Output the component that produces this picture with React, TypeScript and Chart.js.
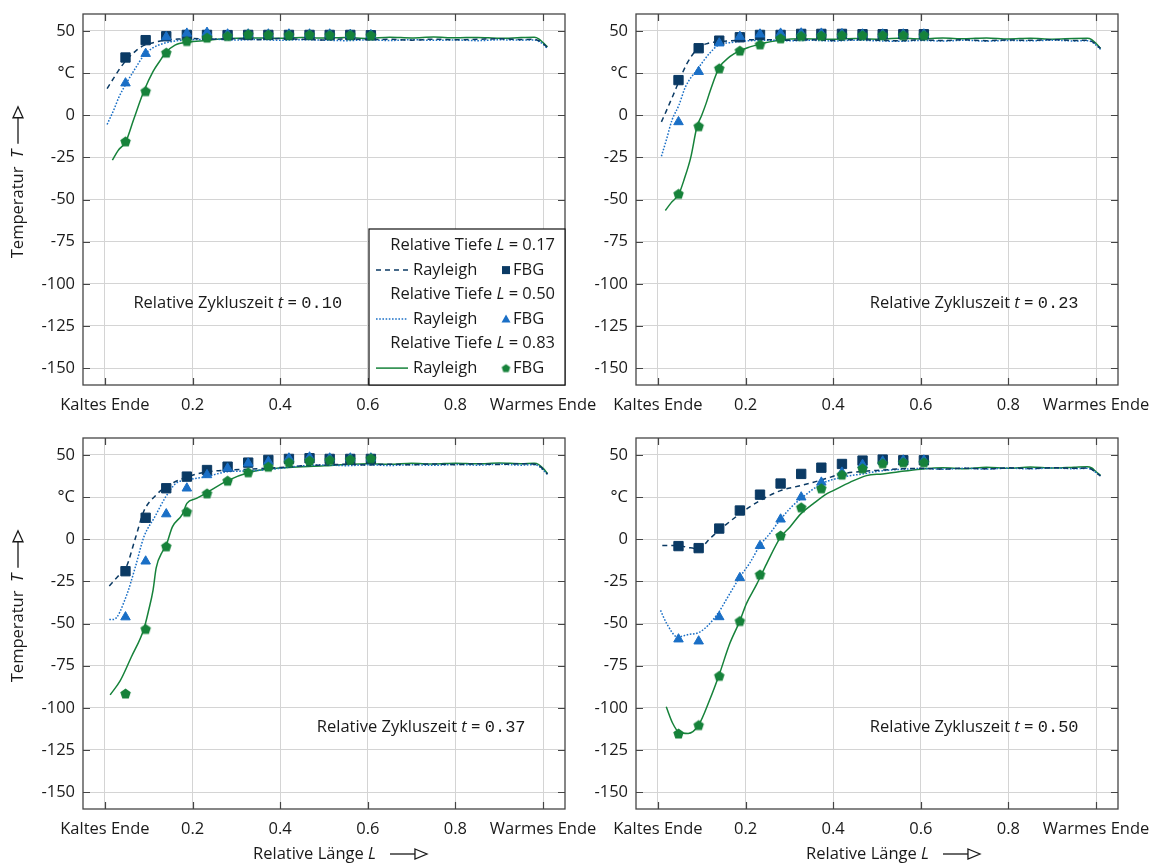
import React, { useEffect, useRef } from 'react';
import { Chart, registerables } from 'chart.js';
Chart.register(...registerables);

const FONT_FAMILY = '"Open Sans", sans-serif';
const MONO_FAMILY = '"Liberation Mono", "DejaVu Sans Mono", monospace';
const FS = 16.5;
const NAVY = '#0b3a64';
const BLUE = '#1a6fc6';
const GREEN = '#16823a';
const GRID = '#d4d4d4';
const FRAME = '#454545';
const TEXT = '#1a1a1a';

// ---------- axis ticks ----------
const xTickValues = [0, 0.2, 0.4, 0.6, 0.8, 1];
const xTickLabels = ['Kaltes Ende', '0.2', '0.4', '0.6', '0.8', 'Warmes Ende'];
const yTickValues = [-150, -125, -100, -75, -50, -25, 0, 25, 50];
const yTickLabels = ['-150', '-125', '-100', '-75', '-50', '-25', '0', '°C', '50'];
const depthLabels = ['0.17', '0.50', '0.83'];
const cycleTimes = ['0.10', '0.23', '0.37', '0.50'];

// ---------- FBG positions (relative length L) ----------
const fbgL = [0.047, 0.093, 0.14, 0.187, 0.233, 0.28, 0.327, 0.373, 0.42, 0.467, 0.513, 0.56, 0.607];

// ---------- t = 0.10 ----------
const rayL_10_17 = [0.005, 0.02, 0.035, 0.05, 0.07, 0.09, 0.11, 0.14, 0.17, 0.2, 0.25, 0.3, 0.35, 0.4, 0.45, 0.5, 0.55, 0.6, 0.65, 0.7, 0.75, 0.8, 0.85, 0.9, 0.95, 0.98, 0.99, 1.0, 1.01];
const rayT_10_17 = [15.7, 22, 28, 33, 38, 41.5, 43, 44.6, 45.2, 45.4, 45.1, 45.3, 44.8, 45.4, 45, 44.6, 45.2, 44.8, 45, 44.5, 45.1, 44.7, 45, 45.3, 44.9, 45, 44.2, 42.5, 40];
const rayL_10_50 = [0.005, 0.02, 0.032, 0.048, 0.07, 0.089, 0.11, 0.14, 0.17, 0.2, 0.25, 0.3, 0.35, 0.4, 0.45, 0.5, 0.55, 0.6, 0.65, 0.7, 0.75, 0.8, 0.85, 0.9, 0.95, 0.98, 0.99, 1.0, 1.01];
const rayT_10_50 = [-5.5, 3, 10.7, 18.5, 28, 35.5, 40, 43, 44.3, 44.8, 45, 44.6, 44.9, 44.4, 44.8, 44.5, 44.2, 44.7, 44.3, 44.8, 44.4, 44.6, 44.2, 44.7, 44.5, 44.6, 43.8, 42, 39.5];
const rayL_10_83 = [0.017, 0.03, 0.048, 0.065, 0.089, 0.11, 0.125, 0.139, 0.16, 0.19, 0.23, 0.28, 0.33, 0.4, 0.45, 0.5, 0.55, 0.6, 0.65, 0.7, 0.75, 0.8, 0.85, 0.9, 0.95, 0.98, 0.99, 1.0, 1.01];
const rayT_10_83 = [-26.6, -21, -15.5, -3, 14.3, 26, 32, 37.1, 41.5, 43.3, 44.3, 45.5, 45.8, 45.6, 46.1, 45.7, 46, 45.5, 46.2, 45.8, 46.3, 45.9, 46.1, 45.6, 46, 46.2, 45.3, 43, 40.5];
const fbg_10_17 = [34.2, 44.5, 46.8, 47.6, 47.6, 47.5, 47.6, 47.6, 47.6, 47.6, 47.6, 47.6, 47.4];
const fbg_10_50 = [19, 36.5, 46.4, 48.5, 49, 48, 48, 48, 48, 48, 48, 47.8, 47.6];
const fbg_10_83 = [-15.5, 14.3, 37.1, 44, 46, 47, 48, 47.8, 47.6, 47.8, 47.6, 47.6, 47.4];

// ---------- t = 0.23 ----------
const rayL_23_17 = [0.008, 0.02, 0.035, 0.048, 0.065, 0.089, 0.11, 0.14, 0.19, 0.25, 0.3, 0.35, 0.4, 0.45, 0.5, 0.55, 0.6, 0.65, 0.7, 0.75, 0.8, 0.85, 0.9, 0.95, 0.98, 0.99, 1.0, 1.01];
const rayT_23_17 = [-4, 3, 12, 20, 30, 39, 42.3, 43.5, 44.5, 44.8, 44.4, 44.7, 44.3, 44.8, 44.5, 44.1, 44.6, 44.3, 44.7, 44.2, 44.6, 44.4, 44.8, 44.3, 44.5, 43.8, 42, 39.5];
const rayL_23_50 = [0.008, 0.02, 0.032, 0.048, 0.063, 0.089, 0.118, 0.139, 0.164, 0.2, 0.25, 0.3, 0.35, 0.4, 0.45, 0.5, 0.55, 0.6, 0.65, 0.7, 0.75, 0.8, 0.85, 0.9, 0.95, 0.98, 0.99, 1.0, 1.01];
const rayT_23_50 = [-24.4, -14, -3, 6, 16.9, 26.8, 36.7, 41.7, 43, 44, 44.5, 44.1, 44.4, 44, 44.5, 44.1, 43.8, 44.3, 44, 44.4, 43.9, 44.3, 44.1, 44.5, 44, 44.2, 43.5, 41.5, 39];
const rayL_23_83 = [0.017, 0.03, 0.048, 0.06, 0.075, 0.089, 0.1, 0.11, 0.12, 0.139, 0.164, 0.187, 0.21, 0.23, 0.28, 0.33, 0.4, 0.45, 0.5, 0.55, 0.6, 0.65, 0.7, 0.75, 0.8, 0.85, 0.9, 0.95, 0.98, 0.99, 1.0, 1.01];
const rayT_23_83 = [-56.5, -52, -46.6, -38, -25, -7, 0, 7, 15, 27.8, 34.7, 38.3, 40.5, 42, 44.6, 45.3, 45, 45.5, 45.1, 45.6, 45.2, 45.7, 45.3, 45.8, 45.2, 45.6, 45.1, 45.5, 45.6, 44.8, 42.5, 39.5];
const fbg_23_17 = [20.8, 39.7, 44.2, 46.2, 47.6, 47.6, 48.2, 48.2, 48.2, 48, 48, 48, 48];
const fbg_23_50 = [-4, 25.8, 42.7, 46.6, 48, 48.5, 48.6, 48.5, 48.2, 48, 48, 48, 48];
const fbg_23_83 = [-46.6, -6.5, 27.8, 38.3, 42, 45.6, 47, 47.2, 47.5, 47.5, 47.5, 47.5, 47.5];

// ---------- t = 0.37 ----------
const rayL_37_17 = [0.01, 0.03, 0.048, 0.07, 0.089, 0.117, 0.139, 0.187, 0.23, 0.28, 0.33, 0.4, 0.45, 0.5, 0.55, 0.6, 0.65, 0.7, 0.75, 0.8, 0.85, 0.9, 0.95, 0.98, 0.99, 1.0, 1.01];
const rayT_37_17 = [-27.8, -22, -17, 1, 16.7, 26.2, 31, 36.9, 39.8, 41, 41.5, 42.5, 43.5, 44, 44.4, 44, 44.5, 44.1, 44.6, 44.2, 44.7, 44.3, 44.8, 44.5, 43.6, 41.5, 38.5];
const rayL_37_50 = [0.01, 0.02, 0.048, 0.07, 0.089, 0.114, 0.139, 0.162, 0.187, 0.23, 0.28, 0.33, 0.4, 0.45, 0.5, 0.55, 0.6, 0.65, 0.7, 0.75, 0.8, 0.85, 0.9, 0.95, 0.98, 0.99, 1.0, 1.01];
const rayT_37_50 = [-47.6, -47.6, -34.3, -16, 1.4, 13.3, 25.2, 33.1, 35.1, 37, 40, 40.5, 42, 43.5, 44, 43.6, 44.1, 43.7, 44.2, 43.8, 44.3, 43.9, 44.4, 43.9, 44.2, 43.4, 41, 38.5];
const rayL_37_83 = [0.012, 0.035, 0.06, 0.089, 0.1, 0.11, 0.117, 0.132, 0.139, 0.154, 0.177, 0.187, 0.209, 0.23, 0.28, 0.33, 0.37, 0.42, 0.5, 0.55, 0.6, 0.65, 0.7, 0.75, 0.8, 0.85, 0.9, 0.95, 0.98, 0.99, 1.0, 1.01];
const rayT_37_83 = [-92.3, -83.9, -70, -53.2, -42, -30, -17, -7, -4.2, 7.3, 14.9, 21.2, 24.2, 27.2, 34.7, 39.7, 41.5, 42.5, 43.5, 44.3, 44.8, 44.4, 45, 44.6, 45.1, 44.7, 45.2, 44.8, 45, 44.2, 42, 39];
const fbg_37_17 = [-19, 12.7, 30.2, 37.1, 41, 43, 45.4, 47, 47.6, 48, 47.6, 47.6, 47.6];
const fbg_37_50 = [-46.2, -13.1, 14.9, 30.2, 38.1, 42, 45, 46, 48, 48.6, 48, 48, 48];
const fbg_37_83 = [-91.5, -53.2, -4.2, 16.3, 27.2, 34.7, 39.7, 43, 45.6, 46.6, 47, 47.4, 48];

// ---------- t = 0.50 ----------
const rayL_50_17 = [0.01, 0.045, 0.07, 0.093, 0.118, 0.139, 0.187, 0.233, 0.28, 0.326, 0.373, 0.42, 0.467, 0.513, 0.56, 0.6, 0.65, 0.7, 0.75, 0.8, 0.85, 0.9, 0.95, 0.98, 0.99, 1.0, 1.01];
const rayT_50_17 = [-3.7, -3.7, -5, -5.7, 0.2, 5.1, 15, 22.9, 28.8, 31.8, 35.1, 38.7, 40.2, 41, 41.8, 42, 41.6, 42.1, 41.7, 42.3, 41.9, 42.4, 42, 42.2, 41.4, 39.5, 37.5];
const rayL_50_50 = [0.006, 0.02, 0.045, 0.07, 0.093, 0.115, 0.139, 0.164, 0.187, 0.21, 0.233, 0.255, 0.28, 0.304, 0.326, 0.373, 0.42, 0.467, 0.513, 0.56, 0.6, 0.65, 0.7, 0.75, 0.8, 0.85, 0.9, 0.95, 0.98, 0.99, 1.0, 1.01];
const rayT_50_50 = [-42.2, -50, -58, -56.5, -55.4, -51, -43.2, -32.3, -22.5, -14, -3.7, 3.2, 11.8, 18.9, 23.9, 32.8, 36.7, 38.7, 40.6, 41.5, 41.9, 41.5, 42, 41.6, 42.1, 41.7, 42.2, 41.8, 42, 41.2, 39.5, 37.5];
const rayL_50_83 = [0.019, 0.034, 0.047, 0.069, 0.093, 0.118, 0.139, 0.164, 0.187, 0.202, 0.225, 0.248, 0.28, 0.301, 0.326, 0.354, 0.385, 0.4, 0.438, 0.476, 0.513, 0.55, 0.6, 0.65, 0.7, 0.75, 0.8, 0.85, 0.9, 0.95, 0.98, 0.99, 1.0, 1.01];
const rayT_50_83 = [-99.4, -109.3, -114.2, -115.2, -110.2, -95.4, -81, -61.9, -48.5, -38.2, -27, -14.6, 1.2, 7.1, 15, 20.9, 26.9, 28.8, 33.7, 37.7, 38.7, 40, 41.5, 42.3, 41.8, 42.6, 42, 42.8, 42.2, 42.7, 43, 42.2, 40, 38];
const fbg_50_17 = [-4.1, -5.3, 6.3, 17, 26.4, 33, 38.7, 42.4, 44.6, 46.6, 47.2, 46.8, 46.8];
const fbg_50_50 = [-59.3, -60.5, -46.1, -22.9, -3.9, 11.8, 24.9, 33.7, 39.6, 44.2, 46.2, 46.8, 46.8];
const fbg_50_83 = [-115.2, -110.2, -81, -48.5, -20.9, 2.2, 18.9, 30.2, 38.3, 42, 45, 45.6, 45.6];

const NOTE_T = -111.5;

type Area = { l: number; t: number; r: number; b: number };
type PanelCfg = {
  key: string;
  pageX: number;
  pageY: number;
  w: number;
  h: number;
  area: Area;
  yTitle: boolean;
  xTitle: boolean;
  legend: boolean;
  noteX: number;
  noteAlign: 'left' | 'right';
  time: string;
  lines: number[][][];
  fbg: number[][];
};

const panels: PanelCfg[] = [
  {
    key: 'p10', pageX: 0, pageY: 0, w: 605, h: 430, area: { l: 83, t: 14, r: 565, b: 385 },
    yTitle: true, xTitle: false, legend: true, noteX: 0.065, noteAlign: 'left', time: cycleTimes[0],
    lines: [[rayL_10_17, rayT_10_17], [rayL_10_50, rayT_10_50], [rayL_10_83, rayT_10_83]],
    fbg: [fbg_10_17, fbg_10_50, fbg_10_83],
  },
  {
    key: 'p23', pageX: 580, pageY: 0, w: 579, h: 430, area: { l: 56, t: 14, r: 538, b: 385 },
    yTitle: false, xTitle: false, legend: false, noteX: 0.96, noteAlign: 'right', time: cycleTimes[1],
    lines: [[rayL_23_17, rayT_23_17], [rayL_23_50, rayT_23_50], [rayL_23_83, rayT_23_83]],
    fbg: [fbg_23_17, fbg_23_50, fbg_23_83],
  },
  {
    key: 'p37', pageX: 0, pageY: 430, w: 605, h: 436, area: { l: 83, t: 8, r: 565, b: 379 },
    yTitle: true, xTitle: true, legend: false, noteX: 0.96, noteAlign: 'right', time: cycleTimes[2],
    lines: [[rayL_37_17, rayT_37_17], [rayL_37_50, rayT_37_50], [rayL_37_83, rayT_37_83]],
    fbg: [fbg_37_17, fbg_37_50, fbg_37_83],
  },
  {
    key: 'p50', pageX: 580, pageY: 430, w: 579, h: 436, area: { l: 56, t: 8, r: 538, b: 379 },
    yTitle: false, xTitle: true, legend: false, noteX: 0.96, noteAlign: 'right', time: cycleTimes[3],
    lines: [[rayL_50_17, rayT_50_17], [rayL_50_50, rayT_50_50], [rayL_50_83, rayT_50_83]],
    fbg: [fbg_50_17, fbg_50_50, fbg_50_83],
  },
];

const COLORS = [NAVY, BLUE, GREEN];
const DASHES = [[5, 4], [1.6, 1.6], []];

type Part = { t: string; i?: boolean; m?: boolean };
const fontStr = (size: number, p: Part) =>
  p.m ? `${size + 0.5}px ${MONO_FAMILY}` : `${p.i ? 'italic ' : ''}${size}px ${FONT_FAMILY}`;

function richWidth(ctx: CanvasRenderingContext2D, parts: Part[], size: number) {
  let w = 0;
  for (const p of parts) {
    ctx.font = fontStr(size, p);
    w += ctx.measureText(p.t).width;
  }
  return w;
}

function drawRich(ctx: CanvasRenderingContext2D, parts: Part[], x: number, y: number, size: number, align: 'left' | 'right' | 'center') {
  const w = richWidth(ctx, parts, size);
  let cx = align === 'left' ? x : align === 'right' ? x - w : x - w / 2;
  ctx.textAlign = 'left';
  ctx.textBaseline = 'middle';
  ctx.fillStyle = TEXT;
  for (const p of parts) {
    ctx.font = fontStr(size, p);
    ctx.fillText(p.t, cx, y);
    cx += ctx.measureText(p.t).width;
  }
  return w;
}

function makePentagon(color: string, size: number, r: number) {
  const c = document.createElement('canvas');
  c.width = size;
  c.height = size;
  const g = c.getContext('2d')!;
  const cx = size / 2;
  const cy = size / 2 + r * 0.1;
  g.beginPath();
  for (let i = 0; i < 5; i++) {
    const ang = -Math.PI / 2 + (i * 2 * Math.PI) / 5;
    const px = cx + r * Math.cos(ang);
    const py = cy + r * Math.sin(ang);
    if (i === 0) g.moveTo(px, py);
    else g.lineTo(px, py);
  }
  g.closePath();
  g.fillStyle = color;
  g.fill();
  return c;
}

function drawArrow(ctx: CanvasRenderingContext2D, x0: number, y: number, shaft: number, head: number, half: number) {
  ctx.strokeStyle = TEXT;
  ctx.lineWidth = 1.3;
  ctx.setLineDash([]);
  ctx.beginPath();
  ctx.moveTo(x0, y);
  ctx.lineTo(x0 + shaft, y);
  ctx.stroke();
  ctx.beginPath();
  ctx.moveTo(x0 + shaft, y - half);
  ctx.lineTo(x0 + shaft + head, y);
  ctx.lineTo(x0 + shaft, y + half);
  ctx.closePath();
  ctx.fillStyle = '#ffffff';
  ctx.fill();
  ctx.stroke();
}

function makeDecor(cfg: PanelCfg, legendPent: HTMLCanvasElement) {
  return {
    id: 'decor_' + cfg.key,
    afterDatasetsDraw(chart: any) {
      const { ctx, scales } = chart;
      const px = scales.x.getPixelForValue(cfg.noteX);
      const py = scales.y.getPixelForValue(NOTE_T);
      ctx.save();
      drawRich(
        ctx,
        [{ t: 'Relative Zykluszeit ' }, { t: 't', i: true }, { t: ' = ' }, { t: cfg.time, m: true }],
        px,
        py,
        FS,
        cfg.noteAlign
      );
      ctx.restore();
    },
    afterDraw(chart: any) {
      const { ctx, chartArea: a, scales } = chart;
      ctx.save();
      // frame
      ctx.strokeStyle = FRAME;
      ctx.lineWidth = 1.3;
      ctx.setLineDash([]);
      ctx.strokeRect(a.left, a.top, a.right - a.left, a.bottom - a.top);
      // inward ticks on all four sides
      ctx.lineWidth = 1.2;
      ctx.beginPath();
      for (const v of xTickValues) {
        const p = Math.round(scales.x.getPixelForValue(v)) + 0.5;
        ctx.moveTo(p, a.top);
        ctx.lineTo(p, a.top + 7);
        ctx.moveTo(p, a.bottom);
        ctx.lineTo(p, a.bottom - 7);
      }
      for (const v of yTickValues) {
        const p = Math.round(scales.y.getPixelForValue(v)) + 0.5;
        ctx.moveTo(a.left, p);
        ctx.lineTo(a.left + 7, p);
        ctx.moveTo(a.right, p);
        ctx.lineTo(a.right - 7, p);
      }
      ctx.stroke();

      // legend
      if (cfg.legend) {
        const bw = 196;
        const bh = 156;
        const L = a.right - bw;
        const T = a.bottom - bh;
        ctx.fillStyle = '#ffffff';
        ctx.fillRect(L, T, bw, bh);
        ctx.strokeStyle = '#111111';
        ctx.lineWidth = 1.2;
        ctx.strokeRect(L, T, bw, bh);
        for (let k = 0; k < 3; k++) {
          const hy = T + 16.7 + k * 49;
          const ry = hy + 24.4;
          drawRich(ctx, [{ t: 'Relative Tiefe ' }, { t: 'L', i: true }, { t: ' = ' + depthLabels[k] }], L + 186, hy, FS, 'right');
          ctx.strokeStyle = COLORS[k];
          ctx.lineWidth = 1.5;
          ctx.setLineDash(DASHES[k]);
          ctx.beginPath();
          ctx.moveTo(L + 7, ry);
          ctx.lineTo(L + 39, ry);
          ctx.stroke();
          ctx.setLineDash([]);
          drawRich(ctx, [{ t: 'Rayleigh' }], L + 44, ry, FS, 'left');
          const mx = L + 137;
          ctx.fillStyle = COLORS[k];
          if (k === 0) {
            ctx.fillRect(mx - 4, ry - 4, 8, 8);
          } else if (k === 1) {
            ctx.beginPath();
            ctx.moveTo(mx, ry - 4.5);
            ctx.lineTo(mx + 4.5, ry + 3.5);
            ctx.lineTo(mx - 4.5, ry + 3.5);
            ctx.closePath();
            ctx.fill();
          } else {
            ctx.drawImage(legendPent, mx - legendPent.width / 2, ry - legendPent.height / 2);
          }
          drawRich(ctx, [{ t: 'FBG' }], L + 144, ry, FS, 'left');
        }
      }

      // y-axis title
      if (cfg.yTitle) {
        const cy = (a.top + a.bottom) / 2 - 17;
        ctx.save();
        ctx.translate(18, cy);
        ctx.rotate(-Math.PI / 2);
        const parts: Part[] = [{ t: 'Temperatur  ' }, { t: 'T', i: true }];
        const w = richWidth(ctx, parts, FS);
        const total = w + 6 + 26 + 11;
        const x0 = -total / 2;
        drawRich(ctx, parts, x0, 0, FS, 'left');
        drawArrow(ctx, x0 + w + 6, 0, 26, 11, 5);
        ctx.restore();
      }

      // x-axis title
      if (cfg.xTitle) {
        const cy = a.bottom + 45;
        const cx = (a.left + a.right) / 2 + 16;
        const parts: Part[] = [{ t: 'Relative Länge ' }, { t: 'L', i: true }];
        const w = richWidth(ctx, parts, FS);
        const total = w + 14 + 25 + 12;
        const x0 = cx - total / 2;
        drawRich(ctx, parts, x0, cy, FS, 'left');
        drawArrow(ctx, x0 + w + 14, cy, 25, 12, 5);
      }
      ctx.restore();
    },
  };
}

function Panel({ cfg }: { cfg: PanelCfg }) {
  const ref = useRef<HTMLCanvasElement>(null);
  useEffect(() => {
    const canvas = ref.current;
    if (!canvas) return;
    const pent = makePentagon(GREEN, 13, 5.5);
    const legendPent = makePentagon(GREEN, 11, 4.5);
    const markerStyles: any[] = ['rect', 'triangle', pent];
    const markerRadius = [6.6, 5.5, 6];
    const datasets: any[] = [];
    // FBG markers (lower order = drawn on top)
    for (let k = 2; k >= 0; k--) {
      datasets.push({
        label: 'FBG ' + depthLabels[k],
        data: fbgL.map((x, i) => ({ x, y: cfg.fbg[k][i] })),
        showLine: false,
        pointStyle: markerStyles[k],
        pointRadius: markerRadius[k],
        pointBackgroundColor: COLORS[k],
        pointBorderColor: COLORS[k],
        pointBorderWidth: k === 2 ? 0 : 1,
        order: 2 - k,
      });
    }
    for (let k = 0; k < 3; k++) {
      const [Ls, Ts] = cfg.lines[k];
      datasets.push({
        label: 'Rayleigh ' + depthLabels[k],
        data: Ls.map((x, i) => ({ x, y: Ts[i] })),
        showLine: true,
        borderColor: COLORS[k],
        borderWidth: 1.5,
        borderDash: DASHES[k],
        pointRadius: 0,
        fill: false,
        cubicInterpolationMode: 'monotone',
        order: 3 + k,
      });
    }
    const a = cfg.area;
    const chart = new Chart(canvas, {
      type: 'scatter',
      data: { datasets },
      options: {
        animation: false,
        responsive: false,
        devicePixelRatio: 1,
        events: [],
        layout: { padding: { top: a.t, right: cfg.w - a.r, left: 0, bottom: 0 } },
        plugins: { legend: { display: false }, tooltip: { enabled: false }, title: { display: false } },
        scales: {
          x: {
            type: 'linear',
            min: -0.05,
            max: 1.05,
            afterBuildTicks: (s: any) => {
              s.ticks = xTickValues.map((v) => ({ value: v }));
            },
            afterFit: (s: any) => {
              s.height = cfg.h - a.b;
              s.paddingLeft = 0;
              s.paddingRight = 0;
            },
            ticks: {
              callback: (_v: any, i: number) => xTickLabels[i],
              font: { family: FONT_FAMILY, size: FS },
              color: TEXT,
              padding: 10,
              maxRotation: 0,
              autoSkip: false,
            },
            grid: { color: GRID, lineWidth: 1, drawTicks: false },
            border: { display: false },
          },
          y: {
            type: 'linear',
            min: -160,
            max: 60,
            afterBuildTicks: (s: any) => {
              s.ticks = yTickValues.map((v) => ({ value: v }));
            },
            afterFit: (s: any) => {
              s.width = a.l;
              s.paddingTop = 0;
              s.paddingBottom = 0;
            },
            ticks: {
              callback: (_v: any, i: number) => yTickLabels[i],
              font: { family: FONT_FAMILY, size: FS },
              color: TEXT,
              padding: 8,
              autoSkip: false,
            },
            grid: { color: GRID, lineWidth: 1, drawTicks: false },
            border: { display: false },
          },
        },
      } as any,
      plugins: [makeDecor(cfg, legendPent)],
    });
    return () => chart.destroy();
  }, [cfg]);
  return (
    <canvas
      ref={ref}
      width={cfg.w}
      height={cfg.h}
      style={{ position: 'absolute', left: cfg.pageX, top: cfg.pageY, width: cfg.w, height: cfg.h }}
    />
  );
}

export default function App() {
  return (
    <div style={{ position: 'fixed', left: 0, top: 0, width: 1159, height: 866, background: '#ffffff', overflow: 'hidden' }}>
      {panels.map((p) => (
        <Panel key={p.key} cfg={p} />
      ))}
    </div>
  );
}
